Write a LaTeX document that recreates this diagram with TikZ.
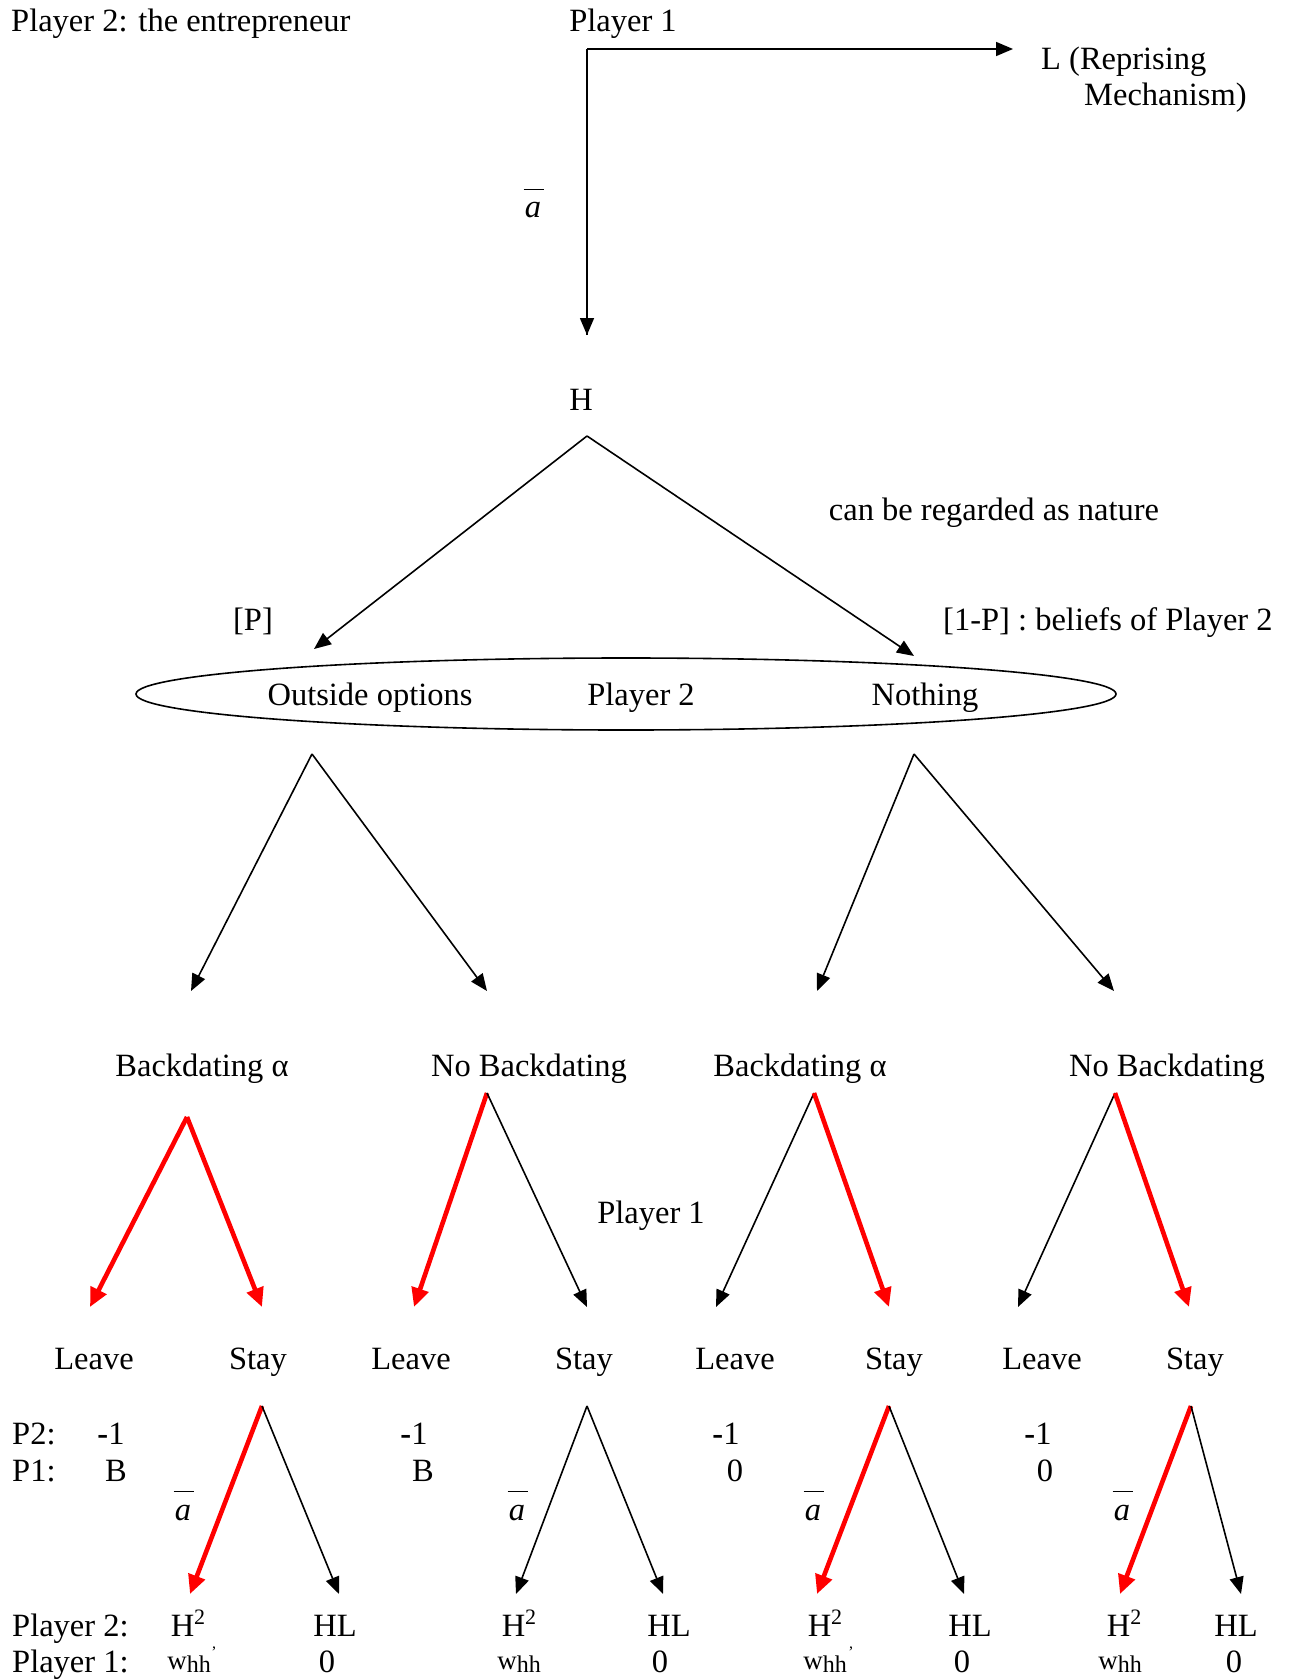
\documentclass[tikz,border=0pt]{standalone}
\usepackage{fontspec}
\setmainfont{Liberation Serif}
\usetikzlibrary{arrows.meta}
\newcommand{\abar}{{\itshape a}\llap{\rule[0.85em]{0.62em}{1.5pt}\kern-0.08em}}
\newcommand{\whh}{{\fontsize{27}{30}\selectfont w\raisebox{-3pt}{\fontsize{24}{26}\selectfont hh}}}
\newcommand{\Hsq}{H\raisebox{12pt}{\fontsize{22}{24}\selectfont 2}}
\begin{document}
\begin{tikzpicture}[x=1pt,y=-1pt,
  font=\fontsize{32.5}{39}\selectfont,
  txt/.style={inner sep=0pt, anchor=base},
  txtl/.style={inner sep=0pt, anchor=base west},
  blk/.style={line width=1.6pt, -{Triangle[length=17pt,width=14pt]}},
  redarr/.style={draw=red, line width=4.6pt, -{Triangle[length=19pt,width=17pt]}}]
\useasboundingbox (0,0) rectangle (1291,1680);

% --- top
\node[txtl] (p2title) at (11,32) {Player 2: the entrepreneur};
\node[txt] (p1top) at (623,32) {Player 1};
\coordinate (corner) at (587,49);
\coordinate (Ltip) at (1013,49);
\coordinate (Htip) at (587,335);
\draw[line width=1.6pt] (Htip) -- (corner);
\draw[blk] (corner) -- (Ltip);
\draw[blk] (corner) -- (Htip);
\node[txtl] (L1) at (1041,70) {L (Reprising};
\node[txtl] (L2) at (1084,106) {Mechanism)};
\node[txt] (abar0) at (533,218) {\abar};

% --- H
\node[txt] (H) at (581,410) {H};
\coordinate (Hapex) at (587,436);
\coordinate (Ptip) at (314,649);
\coordinate (Qtip) at (914,656);
\draw[blk] (Hapex) -- (Ptip);
\draw[blk] (Hapex) -- (Qtip);
\node[txt] (nature) at (994,520) {can be regarded as nature};
\node[txt] (P) at (253,630) {[P]};
\node[txtl] (Q) at (943,630) {[1-P] : beliefs of Player 2};

% --- information set
\draw[line width=1.6pt] (626,694) ellipse [x radius=490, y radius=36];
\node[txt] (oo) at (370,705) {Outside options};
\node[txt] (pl2) at (641,705) {Player 2};
\node[txt] (noth) at (925,705) {Nothing};

% --- level 2
\coordinate (aL) at (312,754);
\coordinate (aR) at (914,754);
\coordinate (t1) at (191,991);
\coordinate (t2) at (487,991);
\coordinate (t3) at (817,991);
\coordinate (t4) at (1114,991);
\draw[blk] (aL) -- (t1);
\draw[blk] (aL) -- (t2);
\draw[blk] (aR) -- (t3);
\draw[blk] (aR) -- (t4);
\node[txt] (b1) at (202,1076) {Backdating α};
\node[txt] (b2) at (529,1076) {No Backdating};
\node[txt] (b3) at (800,1076) {Backdating α};
\node[txt] (b4) at (1167,1076) {No Backdating};

% --- level 3
\coordinate (c1) at (187,1117);
\coordinate (c2) at (487,1093);
\coordinate (c3) at (814,1093);
\coordinate (c4) at (1115,1093);
\coordinate (l1) at (90,1307);  \coordinate (s1) at (262,1307);
\coordinate (l2) at (414,1307); \coordinate (s2) at (587,1307);
\coordinate (l3) at (716,1307); \coordinate (s3) at (889,1307);
\coordinate (l4) at (1018,1307);\coordinate (s4) at (1189,1307);
\draw[redarr] (c1) -- (l1);
\draw[redarr] (c1) -- (s1);
\draw[redarr] (c2) -- (l2);
\draw[blk] (c2) -- (s2);
\draw[blk] (c3) -- (l3);
\draw[redarr] (c3) -- (s3);
\draw[blk] (c4) -- (l4);
\draw[redarr] (c4) -- (s4);
\node[txt] (pl1mid) at (651,1223) {Player 1};

\node[txt] (lv1) at (94,1369) {Leave};
\node[txt] (st1) at (258,1369) {Stay};
\node[txt] (lv2) at (411,1369) {Leave};
\node[txt] (st2) at (584,1369) {Stay};
\node[txt] (lv3) at (735,1369) {Leave};
\node[txt] (st3) at (894,1369) {Stay};
\node[txt] (lv4) at (1042,1369) {Leave};
\node[txt] (st4) at (1195,1369) {Stay};

% --- leave payoffs
\node[txtl] (P2lab) at (12,1444) {P2:};
\node[txtl] (P1lab) at (12,1481) {P1:};
\node[txt] (u1) at (111,1444) {\textbf{-}1};
\node[txt] (v1) at (116,1481) {B};
\node[txt] (u2) at (414,1444) {\textbf{-}1};
\node[txt] (v2) at (423,1481) {B};
\node[txt] (u3) at (726,1444) {\textbf{-}1};
\node[txt] (v3) at (735,1481) {0};
\node[txt] (u4) at (1038,1444) {\textbf{-}1};
\node[txt] (v4) at (1045,1481) {0};

% --- level 4
\coordinate (d1) at (262,1406);
\coordinate (d2) at (587,1406);
\coordinate (d3) at (889,1406);
\coordinate (d4) at (1191,1406);
\coordinate (h1) at (190,1594);  \coordinate (k1) at (339,1594);
\coordinate (h2) at (516,1594);  \coordinate (k2) at (663,1594);
\coordinate (h3) at (817,1594);  \coordinate (k3) at (964,1594);
\coordinate (h4) at (1120,1594); \coordinate (k4) at (1241,1594);
\draw[redarr] (d1) -- (h1);
\draw[blk] (d1) -- (k1);
\draw[blk] (d2) -- (h2);
\draw[blk] (d2) -- (k2);
\draw[redarr] (d3) -- (h3);
\draw[blk] (d3) -- (k3);
\draw[redarr] (d4) -- (h4);
\draw[blk] (d4) -- (k4);
\node[txt] (ab1) at (183,1520) {\abar};
\node[txt] (ab2) at (517,1520) {\abar};
\node[txt] (ab3) at (813,1520) {\abar};
\node[txt] (ab4) at (1122,1520) {\abar};

% --- stay payoffs
\node[txtl] (PL2) at (12,1636) {Player 2:};
\node[txtl] (PL1) at (12,1672) {Player 1:};
\node[txt] (x1) at (188,1636) {\Hsq};
\node[txt, font=\fontsize{16}{18}\selectfont] (cm1) at (214,1648) {,};
\node[txt] (y1) at (189,1669) {\whh};
\node[txt] (z1) at (335,1636) {HL};
\node[txt] (w1) at (327,1672) {0};
\node[txt] (x2) at (519,1636) {\Hsq};
\node[txt] (y2) at (519,1669) {\whh};
\node[txt] (z2) at (669,1636) {HL};
\node[txt] (w2) at (660,1672) {0};
\node[txt] (x3) at (825,1636) {\Hsq};
\node[txt, font=\fontsize{16}{18}\selectfont] (cm3) at (851,1648) {,};
\node[txt] (y3) at (825,1669) {\whh};
\node[txt] (z3) at (970,1636) {HL};
\node[txt] (w3) at (962,1672) {0};
\node[txt] (x4) at (1124,1636) {\Hsq};
\node[txt] (y4) at (1120,1669) {\whh};
\node[txt] (z4) at (1236,1636) {HL};
\node[txt] (w4) at (1234,1672) {0};
\end{tikzpicture}
\end{document}
